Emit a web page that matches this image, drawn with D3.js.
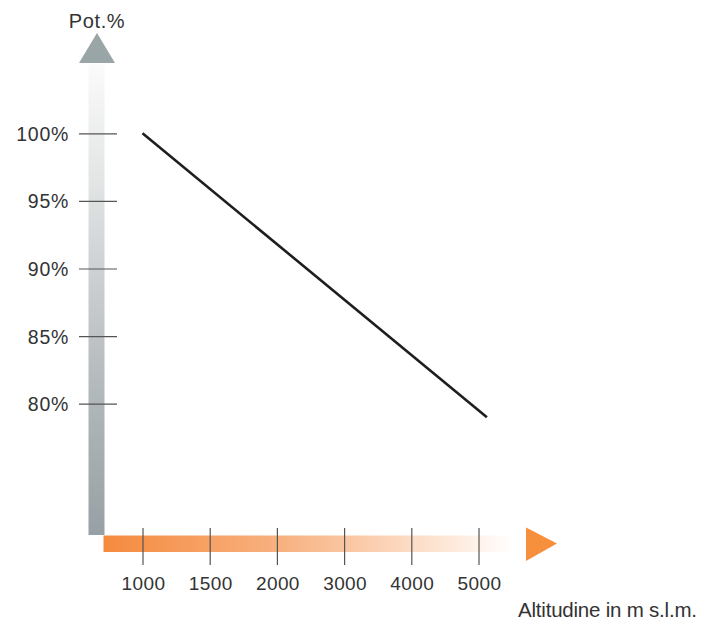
<!DOCTYPE html>
<html><head><meta charset="utf-8">
<script src="https://cdn.jsdelivr.net/npm/d3@7"></script>
<style>html,body{margin:0;padding:0;background:#fff;}svg{display:block;}</style>
</head><body>
<svg id="c" width="707" height="628"></svg>
<script>
// Data
const altitudeTicks = [1000, 1500, 2000, 3000, 4000, 5000];
const potencyTicks = [100, 95, 90, 85, 80];
const lineAltitude = [1000, 5125];
const linePotency = [100, 79];
const yTitle = "Pot.%";
const xTitle = "Altitudine in m s.l.m.";

const svg = d3.select("#c");
const font = "Liberation Sans, Arial, sans-serif";
const textColor = "#333";

// Scales
const x = d3.scaleLinear()
  .domain(altitudeTicks)
  .range(altitudeTicks.map((d, i) => 142.5 + i * 67.2));
const y = d3.scaleLinear().domain([80, 100]).range([403.7, 133.3]);

// Gradients
const defs = svg.append("defs");
const gy = defs.append("linearGradient").attr("id", "gy")
  .attr("x1", 0).attr("y1", 1).attr("x2", 0).attr("y2", 0);
gy.append("stop").attr("offset", 0).attr("stop-color", "#97a0a4");
gy.append("stop").attr("offset", 0.35).attr("stop-color", "#b6bcbf");
gy.append("stop").attr("offset", 0.75).attr("stop-color", "#e2e4e5");
gy.append("stop").attr("offset", 1).attr("stop-color", "#fbfbfb");
const gx = defs.append("linearGradient").attr("id", "gx")
  .attr("x1", 0).attr("y1", 0).attr("x2", 1).attr("y2", 0);
gx.append("stop").attr("offset", 0).attr("stop-color", "#f58a3e");
gx.append("stop").attr("offset", 0.45).attr("stop-color", "#f8b383");
gx.append("stop").attr("offset", 0.8).attr("stop-color", "#fde2cf");
gx.append("stop").attr("offset", 1).attr("stop-color", "#ffffff");

// Y bar + arrow
svg.append("rect").attr("x", 88.5).attr("y", 64).attr("width", 16).attr("height", 471)
  .attr("fill", "url(#gy)");
svg.append("path").attr("d", "M97,33 L115,63 L79,63 Z").attr("fill", "#9aa5a7");
// X bar + arrow
svg.append("rect").attr("x", 103.5).attr("y", 535.5).attr("width", 410).attr("height", 16.5)
  .attr("fill", "url(#gx)");
svg.append("path").attr("d", "M526,527.5 L557,543.5 L526,561 Z").attr("fill", "#f7903c");

// Y axis ticks
const yAxis = d3.axisLeft(y).tickValues(potencyTicks).tickSize(0).tickPadding(0)
  .tickFormat(d => d + "%");
const yg = svg.append("g").attr("transform", "translate(79,0)").call(yAxis);
yg.select(".domain").remove();
yg.selectAll(".tick").append("line").attr("x1", 0).attr("x2", 38)
  .attr("stroke", "#555").attr("stroke-width", 1.2);
yg.selectAll(".tick text").attr("x", -10).attr("dy", "0.36em")
  .attr("font-family", font).attr("font-size", 19.5).attr("fill", textColor)
  .attr("letter-spacing", "0.7px");

// X axis ticks
const xAxis = d3.axisBottom(x).tickValues(altitudeTicks).tickSize(0).tickPadding(0)
  .tickFormat(d3.format("d"));
const xg = svg.append("g").attr("transform", "translate(0,528)").call(xAxis);
xg.select(".domain").remove();
xg.selectAll(".tick").append("line").attr("y1", 0).attr("y2", 37)
  .attr("stroke", "#555").attr("stroke-width", 1.2);
xg.selectAll(".tick text").attr("y", 62).attr("dy", 0).attr("dx", 0.5)
  .attr("font-family", font).attr("font-size", 19).attr("fill", textColor)
  .attr("letter-spacing", "0.4px");

// Line
const pts = lineAltitude.map((a, i) => [a, linePotency[i]]);
svg.append("path").datum(pts)
  .attr("d", d3.line().x(d => x(d[0])).y(d => y(d[1])))
  .attr("fill", "none").attr("stroke", "#1e1e1e").attr("stroke-width", 2.6);

// Titles
svg.append("text").attr("x", 97).attr("y", 28).attr("text-anchor", "middle")
  .attr("font-family", font).attr("font-size", 20).attr("fill", textColor)
  .attr("letter-spacing", "0.6px").text(yTitle);
svg.append("text").attr("x", 518).attr("y", 617)
  .attr("font-family", font).attr("font-size", 20.5).attr("fill", textColor)
  .attr("textLength", 179).attr("lengthAdjust", "spacing").text(xTitle);
</script>
</body></html>
